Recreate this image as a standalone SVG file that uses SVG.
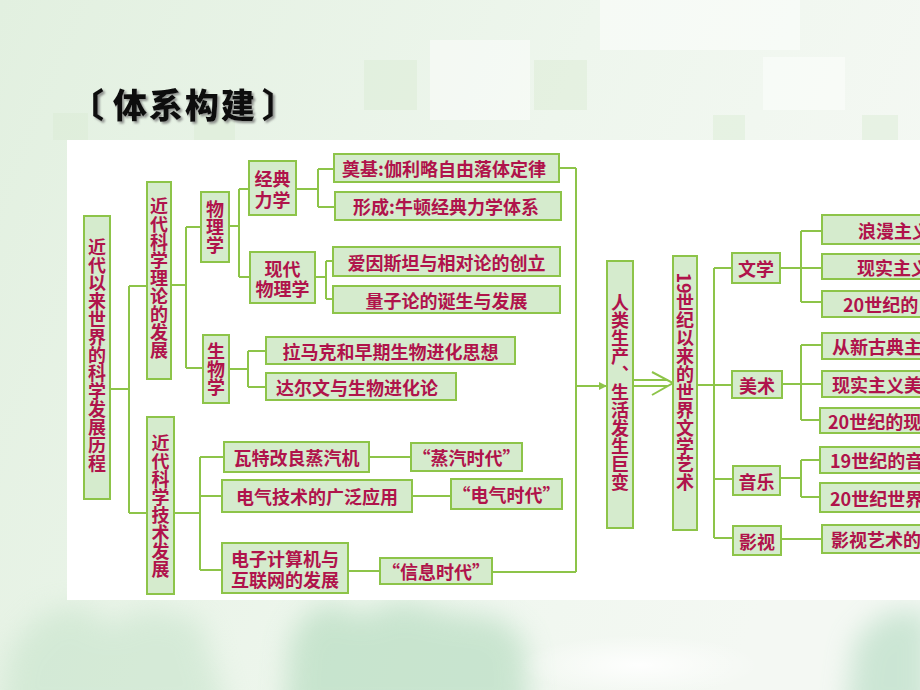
<svg xmlns="http://www.w3.org/2000/svg" width="920" height="690" viewBox="0 0 920 690">
<defs>
<linearGradient id="bg" x1="0" y1="0" x2="1" y2="0.3">
<stop offset="0" stop-color="#e2f0e0"/>
<stop offset="0.6" stop-color="#eef6ed"/>
<stop offset="1" stop-color="#f4f8f3"/>
</linearGradient>
<radialGradient id="glow" cx="0.5" cy="0.5" r="0.5">
<stop offset="0" stop-color="#ffffff" stop-opacity="0.9"/>
<stop offset="1" stop-color="#ffffff" stop-opacity="0"/>
</radialGradient>
<filter id="blur" x="-50%" y="-50%" width="200%" height="200%"><feGaussianBlur stdDeviation="14"/></filter>
<filter id="sh" x="-10%" y="-20%" width="130%" height="150%"><feDropShadow dx="2" dy="2" stdDeviation="1" flood-color="#777" flood-opacity="0.8"/></filter>
<marker id="ah" markerWidth="8" markerHeight="8" refX="7" refY="4" orient="auto" markerUnits="userSpaceOnUse">
<path d="M0,0 L8,4 L0,8 z" fill="#8dc449"/>
</marker>
</defs>
<style>
.b{fill:#d5ebcd;stroke:#8dc449;stroke-width:2}
.t{font-family:"Noto Sans CJK SC","Noto Sans CJK JP",sans-serif;font-size:18px;fill:#b0134b;font-weight:bold;text-anchor:middle;dominant-baseline:central}
.v{font-family:"Noto Sans CJK SC","Noto Sans CJK JP",sans-serif;font-size:18px;fill:#b0134b;font-weight:bold;writing-mode:vertical-rl;text-anchor:middle}
.l{fill:none;stroke:#8dc449;stroke-width:2}
.sq{fill:#d9ecd2;opacity:0.45}
.sw{fill:#ffffff;opacity:0.45}
</style>
<rect width="920" height="690" fill="url(#bg)"/>
<g id="decor">
<rect class="sw" x="600" y="0" width="200" height="50"/>
<rect class="sw" x="763" y="57" width="82" height="53"/>
<rect class="sw" x="430" y="40" width="100" height="80"/>
<rect class="sq" x="364" y="60" width="53" height="50"/>
<rect class="sq" x="534" y="60" width="53" height="50"/>
<rect class="sq" x="53" y="113" width="35" height="27"/>
<rect class="sq" x="194" y="113" width="41" height="27"/>
<rect class="sq" x="713" y="115" width="32" height="25"/>
<rect class="sq" x="862" y="115" width="36" height="25"/>
<g filter="url(#blur)" opacity="0.4">
<path d="M285,720 L290,640 L305,615 L330,602 L360,615 L400,600 L450,612 L500,618 L525,640 L530,720 Z" fill="#8fcaa0"/>
<path d="M0,720 L10,650 L40,615 L80,605 L110,625 L150,608 L200,620 L230,720 Z" fill="#b6dcbd"/>
<path d="M845,720 L855,640 L885,612 L930,610 L930,720 Z" fill="#8fcaa6"/>
</g>
<ellipse cx="640" cy="665" rx="120" ry="30" fill="url(#glow)"/>
</g>
<rect x="67" y="140" width="853" height="460" fill="#ffffff"/>

<g id="title" font-family="'Noto Sans CJK SC',sans-serif" font-weight="900" font-size="34" fill="#111" filter="url(#sh)">
<text x="70" y="118">〔</text>
<text x="113" y="118" letter-spacing="2">体系构建</text>
<text x="262" y="118">〕</text>
</g>

<g id="connectors">
<path class="l" d="M110,389H129M129,286V513M129,286H147M129,513H147"/>
<path class="l" d="M171,285H186M186,227V368M186,227H201M186,368H203"/>
<path class="l" d="M229,226H239M239,189V277M239,189H249M239,277H250"/>
<path class="l" d="M296,189H318M318,169V207M318,169H334M318,207H335"/>
<path class="l" d="M315,277H326M326,261V299M326,261H333M326,299H333"/>
<path class="l" d="M229,369H248M248,351V387M248,351H266M248,387H266"/>
<path class="l" d="M174,513H200M200,457V570M200,457H224M200,496H222M200,570H222"/>
<path class="l" d="M369,457H411M412,496H451M348,571H380"/>
<path class="l" d="M559,168H576M492,572H576M576,168V572"/>
<path class="l" d="M576,386H606" marker-end="url(#ah)"/>
<path class="l" d="M633,380H668M633,386H668M652,372L673,383L652,395"/>
<path class="l" d="M697,385H714M714,268V538M714,268H732M714,385H732M714,479H733M714,538H733"/>
<path class="l" d="M780,268H822M801,231V302M801,231H822M801,302H822"/>
<path class="l" d="M782,384H822M801,345V420M801,345H822M801,420H820"/>
<path class="l" d="M780,478H801M801,460V497M801,460H820M801,497H820"/>
<path class="l" d="M781,539H822"/>
</g>

<g id="n1"><rect class="b" x="84" y="216" width="26" height="283"/><text class="v" x="97" y="355">近代以来世界的科学发展历程</text></g>
<g id="n2"><rect class="b" x="147" y="182" width="24" height="197"/><text class="v" x="159" y="278">近代科学理论的发展</text></g>
<g id="n3"><rect class="b" x="147" y="417" width="27" height="177"/><text class="v" x="160.5" y="506">近代科学技术发展</text></g>
<g id="n4"><rect class="b" x="201" y="192" width="28" height="70"/><text class="v" x="215" y="227">物理学</text></g>
<g id="n5"><rect class="b" x="203" y="335" width="26" height="68"/><text class="v" x="216" y="369">生物学</text></g>
<g id="n6"><rect class="b" x="249" y="161" width="47" height="54"/><text class="t" x="272.5" y="178">经典</text><text class="t" x="272.5" y="199">力学</text></g>
<g id="n7"><rect class="b" x="250" y="252" width="65" height="51"/><text class="t" x="282.5" y="268">现代</text><text class="t" x="282.5" y="288">物理学</text></g>
<g id="n8"><rect class="b" x="334" y="154" width="225" height="28"/><text class="t" x="444" y="168">奠基:伽利略自由落体定律</text></g>
<g id="n9"><rect class="b" x="335" y="192" width="226" height="28"/><text class="t" x="446" y="206">形成:牛顿经典力学体系</text></g>
<g id="n10"><rect class="b" x="333" y="247" width="227" height="29"/><text class="t" x="446.5" y="261.5">爱因斯坦与相对论的创立</text></g>
<g id="n11"><rect class="b" x="333" y="286" width="227" height="27"/><text class="t" x="446.5" y="299.5">量子论的诞生与发展</text></g>
<g id="n12"><rect class="b" x="266" y="337" width="249" height="27"/><text class="t" x="390.5" y="350.5">拉马克和早期生物进化思想</text></g>
<g id="n13"><rect class="b" x="266" y="373" width="190" height="27"/><text class="t" x="357" y="386.5">达尔文与生物进化论</text></g>
<g id="n14"><rect class="b" x="224" y="442" width="145" height="30"/><text class="t" x="296.5" y="457">瓦特改良蒸汽机</text></g>
<g id="n15"><rect class="b" x="222" y="480" width="190" height="32"/><text class="t" x="317" y="496">电气技术的广泛应用</text></g>
<g id="n16"><rect class="b" x="222" y="543" width="126" height="50"/><text class="t" x="285" y="558">电子计算机与</text><text class="t" x="285" y="579">互联网的发展</text></g>
<g id="n17"><rect class="b" x="411" y="443" width="111" height="28"/><text class="t" x="466.5" y="457">“蒸汽时代”</text></g>
<g id="n18"><rect class="b" x="451" y="479" width="111" height="30"/><text class="t" x="506.5" y="494">“电气时代”</text></g>
<g id="n19"><rect class="b" x="380" y="558" width="112" height="26"/><text class="t" x="436" y="571">“信息时代”</text></g>
<g id="n20"><rect class="b" x="607" y="261" width="26" height="267"/><text class="v" x="620" y="392">人类生产、生活发生巨变</text></g>
<g id="n21"><rect class="b" x="673" y="256" width="24" height="274"/><text class="v" x="685" y="382">19世纪以来的世界文学艺术</text></g>
<g id="n22"><rect class="b" x="732" y="253" width="48" height="30"/><text class="t" x="756" y="268">文学</text></g>
<g id="n23"><rect class="b" x="732" y="371" width="50" height="27"/><text class="t" x="757" y="384.5">美术</text></g>
<g id="n24"><rect class="b" x="733" y="466" width="47" height="29"/><text class="t" x="756.5" y="480.5">音乐</text></g>
<g id="n25"><rect class="b" x="733" y="526" width="48" height="29"/><text class="t" x="757" y="540.5">影视</text></g>
<g id="n26"><rect class="b" x="822" y="215" width="110" height="29"/><text class="t" x="858" y="229.5" style="text-anchor:start">浪漫主义</text></g>
<g id="n27"><rect class="b" x="822" y="254" width="110" height="25"/><text class="t" x="857" y="266.5" style="text-anchor:start">现实主义</text></g>
<g id="n28"><rect class="b" x="822" y="291" width="110" height="26"/><text class="t" x="843" y="304" style="text-anchor:start">20世纪的</text></g>
<g id="n29"><rect class="b" x="822" y="333" width="110" height="26"/><text class="t" x="832" y="346" style="text-anchor:start">从新古典主</text></g>
<g id="n30"><rect class="b" x="822" y="371" width="110" height="26"/><text class="t" x="832" y="384" style="text-anchor:start">现实主义美</text></g>
<g id="n31"><rect class="b" x="820" y="408" width="110" height="25"/><text class="t" x="828" y="420.5" style="text-anchor:start">20世纪的现</text></g>
<g id="n32"><rect class="b" x="820" y="447" width="110" height="26"/><text class="t" x="830" y="460" style="text-anchor:start">19世纪的音</text></g>
<g id="n33"><rect class="b" x="820" y="483" width="110" height="29"/><text class="t" x="830" y="497.5" style="text-anchor:start">20世纪世界</text></g>
<g id="n34"><rect class="b" x="822" y="525" width="110" height="28"/><text class="t" x="831" y="539" style="text-anchor:start">影视艺术的</text></g>
</svg>
